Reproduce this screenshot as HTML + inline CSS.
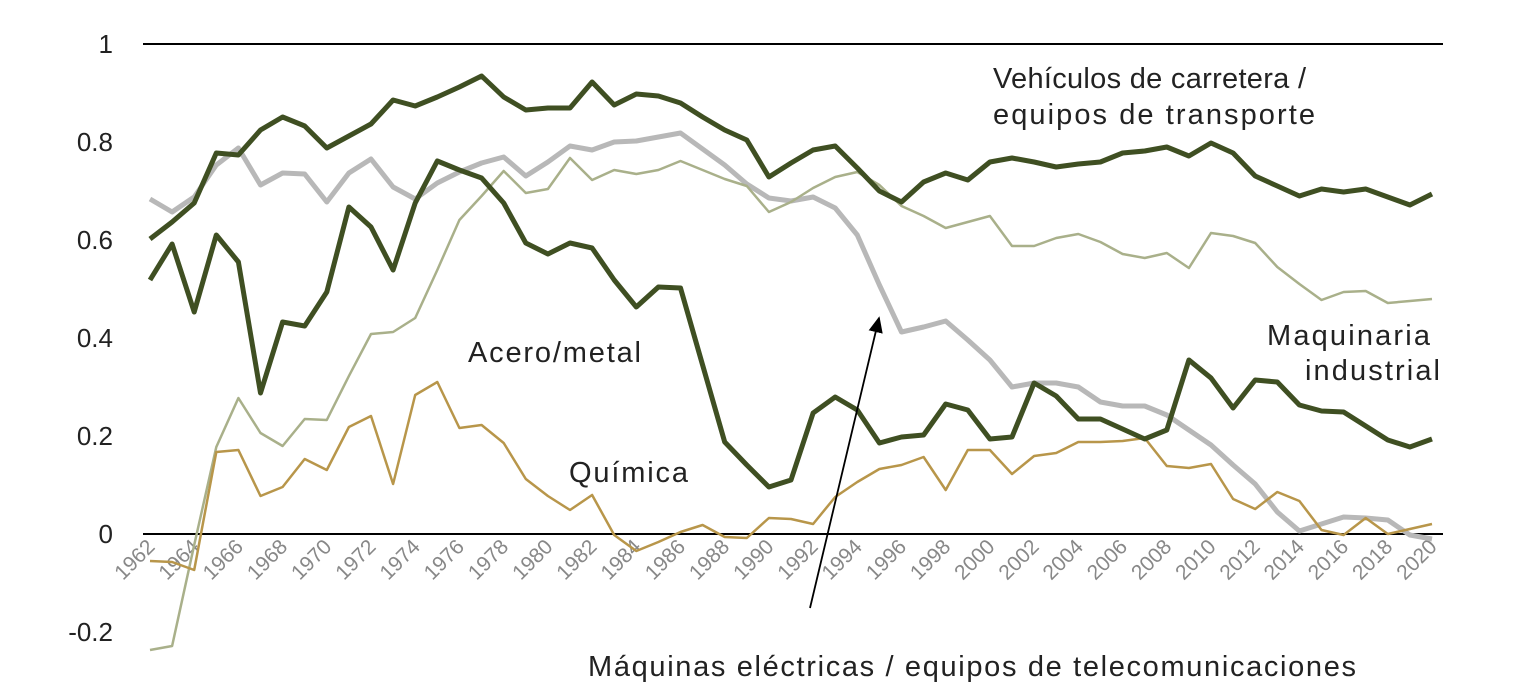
<!DOCTYPE html>
<html><head><meta charset="utf-8"><style>
body{margin:0;background:#fff;}
svg{display:block;font-family:"Liberation Sans",sans-serif;}
</style></head><body>
<svg id="s" width="1518" height="700" xmlns="http://www.w3.org/2000/svg">
<line x1="143" y1="44" x2="1443" y2="44" stroke="#000" stroke-width="2"/>
<line x1="143" y1="534" x2="1443" y2="534" stroke="#000" stroke-width="2"/>
<g font-size="26" fill="#222" text-anchor="end">
<text x="113" y="53">1</text>
<text x="113" y="151">0.8</text>
<text x="113" y="249">0.6</text>
<text x="113" y="347">0.4</text>
<text x="113" y="445">0.2</text>
<text x="113" y="543">0</text>
<text x="113" y="641">-0.2</text>
</g>
<g id="ticks" font-size="21" fill="#888" text-anchor="end"></g>
<g id="lines"></g>
<g font-size="29" fill="#222" lengthAdjust="spacingAndGlyphs">
<text x="993" y="88" textLength="313">Vehículos de carretera /</text>
<text x="993" y="124" textLength="322">equipos de transporte</text>
<text x="1267" y="345" textLength="163">Maquinaria</text>
<text x="1305" y="380" textLength="135">industrial</text>
<text x="468" y="362" textLength="173">Acero/metal</text>
<text x="569" y="482" textLength="119">Química</text>
<text x="588" y="676" textLength="768">Máquinas eléctricas / equipos de telecomunicaciones</text>
</g>
<defs><marker id="ah" markerWidth="10" markerHeight="10" refX="8" refY="5" orient="auto"><path d="M0,1 L9,5 L0,9 z" fill="#000"/></marker></defs>
<line x1="810" y1="608" x2="879" y2="318" stroke="#000" stroke-width="1.8" marker-end="url(#ah)"/>
</svg>
<script>
var x0=150,dx=(1432-150)/58;
var S=[
["#b8b8b8",5,[199,212,197,165,148,185,173,174,202,173,159,187,199,183,172,163,157,176,162,146,150,142,141,137,133,149,165,184,198,201,197,208,235,285,332,327,321,340,360,387,383,383,387,402,406,406,415,430,445,465,484,512,531,524,517,518,520,535,539]],
["#a9b08a",2.5,[650,646,545,447,398,433,446,419,420,376,334,332,318,270,220,196,171,193,189,158,180,170,174,170,161,170,179,186,212,202,188,177,172,185,206,216,228,222,216,246,246,238,234,242,254,258,253,268,233,236,243,267,284,300,292,291,303,301,299]],
["#b8964a",2.5,[561,562,570,452,450,496,487,459,470,427,416,484,395,382,428,425,443,479,496,510,495,535,551,542,532,525,537,538,518,519,524,497,482,469,465,457,490,450,450,474,456,453,442,442,441,438,466,468,464,499,509,492,501,530,535,518,534,529,524]],
["#3f4f22",5,[280,244,312,235,262,393,322,326,292,207,227,270,203,161,170,178,203,243,254,243,248,280,307,287,288,365,442,465,487,480,413,397,410,443,437,435,404,410,439,437,383,396,419,419,429,439,430,360,378,408,380,382,405,411,412,426,440,447,439]],
["#3f4f22",5,[239,222,203,153,155,130,117,126,148,136,124,100,106,97,87,76,97,110,108,108,82,105,94,96,103,117,130,140,177,163,150,146,168,191,202,182,173,180,162,158,162,167,164,162,153,151,147,156,143,153,176,186,196,189,192,189,197,205,194]]
];
var g=document.getElementById("lines"),ns="http://www.w3.org/2000/svg";
S.forEach(function(s){var p=document.createElementNS(ns,"polyline");
p.setAttribute("points",s[2].map(function(v,i){return (x0+i*dx).toFixed(1)+","+v}).join(" "));
p.setAttribute("fill","none");p.setAttribute("stroke",s[0]);p.setAttribute("stroke-width",s[1]);p.setAttribute("stroke-linejoin","round");g.appendChild(p);});
var t=document.getElementById("ticks");
for(var y=1962;y<=2020;y+=2){var x=x0+(y-1962)*dx+6,yy=548;var e=document.createElementNS(ns,"text");
e.setAttribute("x",x);e.setAttribute("y",yy);e.setAttribute("transform","rotate(-45 "+x+" "+yy+")");e.textContent=y;t.appendChild(e);}
</script>
</body></html>
